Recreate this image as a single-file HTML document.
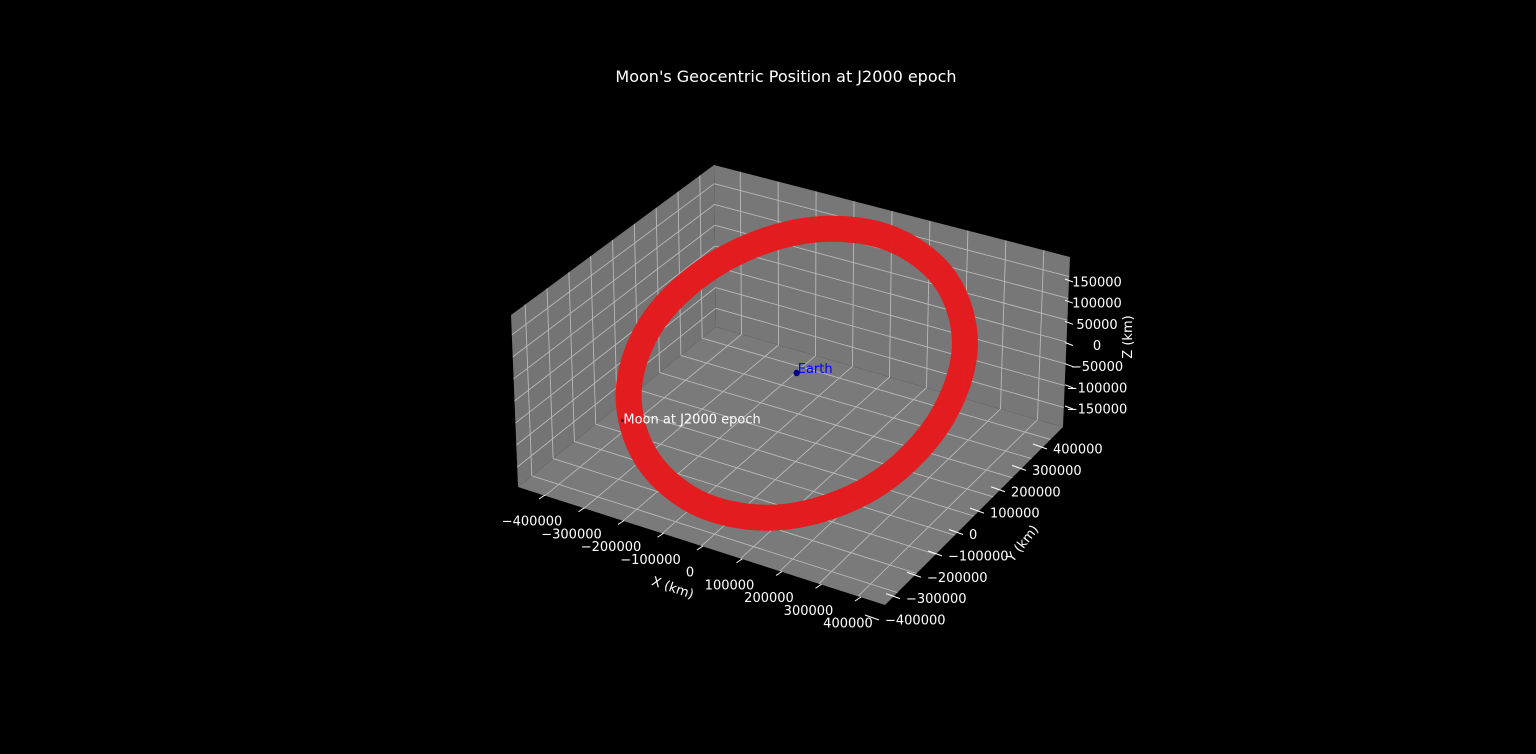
<!DOCTYPE html>
<html><head><meta charset="utf-8"><style>
html,body{margin:0;padding:0;background:#000;}
svg{display:block;font-family:"DejaVu Sans","Liberation Sans",sans-serif;}
</style></head><body>
<svg id="chart" width="1536" height="754" viewBox="0 0 1536 754">
<rect x="0" y="0" width="1536" height="754" fill="#000"/>
<text x="786" y="82" fill="#fff" font-size="16" text-anchor="middle">Moon's Geocentric Position at J2000 epoch</text>
<g id="panes"></g>
<g id="grid"></g>
<g id="ticks"></g>
<g id="marks"></g>
<text x="673" y="592" fill="#fff" font-size="13" text-anchor="middle" transform="rotate(19 673 587)">X (km)</text>
<text x="1022" y="548" fill="#fff" font-size="13" text-anchor="middle" transform="rotate(-52 1022 543)">Y (km)</text>
<text x="1127" y="342" fill="#fff" font-size="13" text-anchor="middle" transform="rotate(-90 1127 337)">Z (km)</text>
</svg>
<script>
// ---- data ----
const xTicks = [-400000,-300000,-200000,-100000,0,100000,200000,300000,400000];
const yTicks = [-400000,-300000,-200000,-100000,0,100000,200000,300000,400000];
const zTicks = [-150000,-100000,-50000,0,50000,100000,150000];
const orbitX = [368000,244000,56000,-142000,-302000,-386000,-362000,-239000,-56000,142000,306000,388000];
const orbitY = [132000,270000,335000,311000,203000,41000,-132000,-270000,-335000,-311000,-203000,-41000];
const orbitZ = [100000,171000,199000,177000,111000,18000,-76000,-147000,-175000,-153000,-87000,6000];
const earthPos = [0,0,0];
const moonPos = [-305000,-266700,-76100];

// ---- axes ----
const XMIN=-469000,XMAX=469000,YMIN=-465000,YMAX=465000,ZMIN=-195000,ZMAX=195000;
const E=[518,487],F=[885,605],D=[716,327],G=[1063,427];
const ZE=[-7,-172],ZF=[4,-180],ZD=[-2,-162],ZG=[7,-170];
function bil(a,b,c,d,u,v){return [a[0]*(1-u)*(1-v)+b[0]*u*(1-v)+c[0]*(1-u)*v+d[0]*u*v,
 a[1]*(1-u)*(1-v)+b[1]*u*(1-v)+c[1]*(1-u)*v+d[1]*u*v];}
function P(x,y,z){
 const u=(x-XMIN)/(XMAX-XMIN),v=(y-YMIN)/(YMAX-YMIN),w=(z-ZMIN)/(ZMAX-ZMIN);
 const f=bil(E,F,D,G,u,v),zv=bil(ZE,ZF,ZD,ZG,u,v);
 return [f[0]+w*zv[0],f[1]+w*zv[1]];
}
function xLab(x){const t=(x+400000)/800000;return [532+t*(848-532),521+t*(623-521)];}
function yLab(y){const t=(y+400000)/800000;return [885+t*(1053-885),620+t*(449-620)];}
function zLab(z){const t=(z+150000)/300000;return [1097,409+t*(282-409)];}

const NS="http://www.w3.org/2000/svg";
function mk(tag,parent,attrs){const e=document.createElementNS(NS,tag);for(const k in attrs)e.setAttribute(k,attrs[k]);parent.appendChild(e);return e;}
const pts=a=>a.map(p=>p[0].toFixed(1)+","+p[1].toFixed(1)).join(" ");
const panes=document.getElementById('panes'),grid=document.getElementById('grid'),ticks=document.getElementById('ticks'),marks=document.getElementById('marks');

let el;
el=mk('polygon',panes,{points:pts([P(XMIN,YMIN,ZMIN),P(XMAX,YMIN,ZMIN),P(XMAX,YMAX,ZMIN),P(XMIN,YMAX,ZMIN)]),fill:'#7a7a7a'});


el=mk('polygon',panes,{points:pts([P(XMIN,YMIN,ZMIN),P(XMIN,YMAX,ZMIN),P(XMIN,YMAX,ZMAX),P(XMIN,YMIN,ZMAX)]),fill:'#747474'});


el=mk('polygon',panes,{points:pts([P(XMIN,YMAX,ZMIN),P(XMAX,YMAX,ZMIN),P(XMAX,YMAX,ZMAX),P(XMIN,YMAX,ZMAX)]),fill:'#777777'});



const GC='#b8b8b8';
function gl(a,b,name){const l=mk('line',grid,{x1:a[0],y1:a[1],x2:b[0],y2:b[1],stroke:GC,'stroke-width':0.9});
 
 }
xTicks.forEach(x=>{gl(P(x,YMIN,ZMIN),P(x,YMAX,ZMIN),'x-grid-floor');gl(P(x,YMAX,ZMIN),P(x,YMAX,ZMAX),'x-grid-back');});
yTicks.forEach(y=>{gl(P(XMIN,y,ZMIN),P(XMAX,y,ZMIN),'y-grid-floor');gl(P(XMIN,y,ZMIN),P(XMIN,y,ZMAX),'y-grid-left');});
zTicks.forEach(z=>{gl(P(XMIN,YMIN,z),P(XMIN,YMAX,z),'z-grid-left');gl(P(XMIN,YMAX,z),P(XMAX,YMAX,z),'z-grid-back');});

const fmt=v=>(v<0?"\u2212":"")+Math.abs(v);
xTicks.forEach(x=>{const p=xLab(x);
 const t=mk('line',ticks,{x1:p[0]+7,y1:p[1]-22,x2:p[0]+13,y2:p[1]-26,stroke:'#fff','stroke-width':1});
 
 
 const s=mk('text',ticks,{x:p[0],y:p[1]+4.5,fill:'#fff','font-size':13,'text-anchor':'middle'});s.textContent=fmt(x);
 
 });
yTicks.forEach(y=>{const p=yLab(y);
 const t=mk('line',ticks,{x1:p[0]-20,y1:p[1]-5,x2:p[0]-6,y2:p[1],stroke:'#fff','stroke-width':1});
 
 
 const s=mk('text',ticks,{x:p[0],y:p[1]+4.5,fill:'#fff','font-size':13,'text-anchor':'start'});s.textContent=fmt(y);
 
 });
zTicks.forEach(z=>{const p=zLab(z);
 const t=mk('line',ticks,{x1:p[0]-32,y1:p[1]-3,x2:p[0]-24,y2:p[1],stroke:'#fff','stroke-width':1});
 
 
 const s=mk('text',ticks,{x:p[0],y:p[1]+4.5,fill:'#fff','font-size':13,'text-anchor':'middle'});s.textContent=fmt(z);
 
 });

// earth
const ep=P(earthPos[0],earthPos[1],earthPos[2]);
el=mk('circle',marks,{cx:ep[0]+1,cy:ep[1]-3,r:3.2,fill:'#00008b'});


el=mk('text',marks,{x:ep[0]+2,y:ep[1]-3,fill:'#0000ff','font-size':13});el.textContent='Earth';



// orbit ring
const op=orbitX.map((x,i)=>P(x,orbitY[i],orbitZ[i]));
const n=op.length;let d='M'+op[0][0].toFixed(1)+','+op[0][1].toFixed(1);
for(let i=0;i<n;i++){const p0=op[(i-1+n)%n],p1=op[i],p2=op[(i+1)%n],p3=op[(i+2)%n];
 const c1=[p1[0]+(p2[0]-p0[0])/6,p1[1]+(p2[1]-p0[1])/6],c2=[p2[0]-(p3[0]-p1[0])/6,p2[1]-(p3[1]-p1[1])/6];
 d+=' C'+c1.map(v=>v.toFixed(1))+' '+c2.map(v=>v.toFixed(1))+' '+p2.map(v=>v.toFixed(1));}
el=mk('path',marks,{d:d+'Z',fill:'none',stroke:'#e61a1c','stroke-width':26,opacity:0.97});



// moon
const mp=P(moonPos[0],moonPos[1],moonPos[2]);
el=mk('circle',marks,{cx:mp[0],cy:mp[1],r:1.5,fill:'#222'});


el=mk('text',marks,{x:mp[0]+1,y:mp[1]+3,fill:'#fff','font-size':13});el.textContent='Moon at J2000 epoch';


</script>
</body></html>
